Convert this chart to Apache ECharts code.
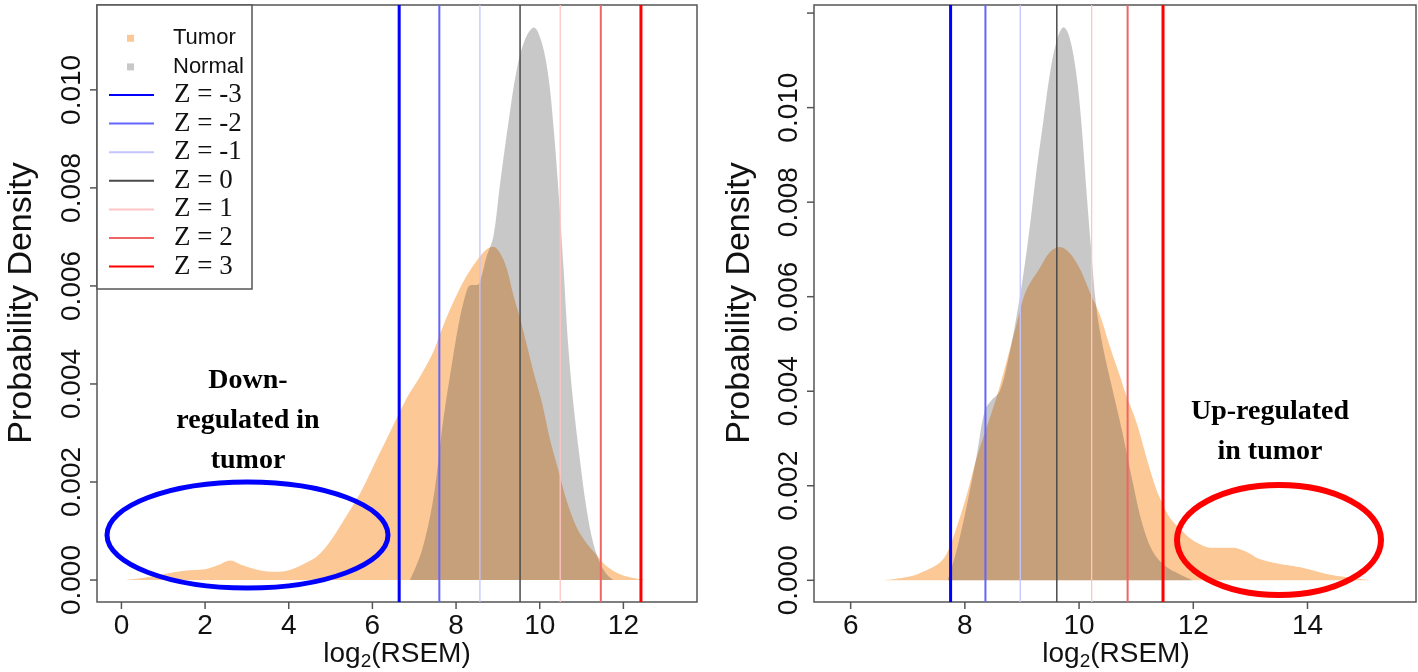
<!DOCTYPE html>
<html><head><meta charset="utf-8">
<script src="https://cdn.jsdelivr.net/npm/echarts@6/dist/echarts.min.js"></script>
<style>html,body{margin:0;padding:0;background:#fff}#c{width:1418px;height:672px}</style>
</head><body><div id="c"></div>
<script>
// ---- data ----
const tumorLeft = [[0.10,0.00000],[0.50,0.00004],[1.00,0.00012],[1.50,0.00019],[2.00,0.00022],[2.30,0.00030],[2.60,0.00040],[2.90,0.00030],[3.30,0.00020],[3.70,0.00017],[4.00,0.00020],[4.30,0.00030],[4.70,0.00050],[5.00,0.00080],[5.30,0.00120],[5.70,0.00176],[6.10,0.00246],[6.50,0.00316],[6.82,0.00371],[7.14,0.00415],[7.46,0.00466],[7.62,0.00503],[7.93,0.00566],[8.25,0.00620],[8.49,0.00651],[8.73,0.00675],[8.89,0.00680],[9.05,0.00667],[9.21,0.00636],[9.37,0.00581],[9.53,0.00534],[9.69,0.00480],[9.85,0.00425],[10.05,0.00363],[10.25,0.00285],[10.45,0.00223],[10.65,0.00160],[10.89,0.00106],[11.12,0.00075],[11.36,0.00051],[11.60,0.00028],[11.92,0.00012],[12.24,0.00004],[12.52,0.00000]];
const normalLeft = [[6.90,0.00000],[7.18,0.00059],[7.46,0.00168],[7.69,0.00324],[7.93,0.00456],[8.09,0.00534],[8.25,0.00589],[8.33,0.00601],[8.53,0.00603],[8.61,0.00620],[8.73,0.00660],[8.89,0.00700],[9.05,0.00807],[9.25,0.00932],[9.45,0.01041],[9.65,0.01103],[9.86,0.01127],[10.05,0.01096],[10.21,0.01025],[10.33,0.00924],[10.45,0.00791],[10.57,0.00636],[10.68,0.00480],[10.80,0.00363],[10.96,0.00246],[11.12,0.00145],[11.28,0.00075],[11.44,0.00035],[11.60,0.00012],[11.76,0.00000]];
const tumorRight = [[6.57,0.00000],[7.03,0.00008],[7.32,0.00021],[7.56,0.00037],[7.70,0.00061],[7.85,0.00110],[8.02,0.00175],[8.20,0.00256],[8.37,0.00320],[8.55,0.00385],[8.72,0.00458],[8.90,0.00539],[9.07,0.00612],[9.31,0.00660],[9.48,0.00693],[9.66,0.00705],[9.83,0.00693],[10.01,0.00660],[10.18,0.00612],[10.36,0.00563],[10.53,0.00498],[10.71,0.00434],[10.82,0.00393],[11.00,0.00336],[11.17,0.00264],[11.29,0.00215],[11.41,0.00175],[11.58,0.00134],[11.76,0.00110],[11.99,0.00085],[12.34,0.00069],[12.69,0.00069],[12.92,0.00061],[13.16,0.00045],[13.50,0.00035],[13.75,0.00030],[14.00,0.00024],[14.40,0.00012],[14.80,0.00005],[15.10,0.00000]];
const normalRight = [[7.70,0.00000],[7.85,0.00061],[8.02,0.00150],[8.20,0.00260],[8.35,0.00360],[8.46,0.00380],[8.61,0.00400],[8.75,0.00462],[8.90,0.00555],[9.02,0.00644],[9.13,0.00741],[9.25,0.00863],[9.37,0.00968],[9.48,0.01065],[9.60,0.01138],[9.73,0.01170],[9.83,0.01150],[9.95,0.01073],[10.04,0.00968],[10.12,0.00838],[10.21,0.00701],[10.30,0.00579],[10.41,0.00498],[10.59,0.00401],[10.76,0.00312],[10.94,0.00207],[11.11,0.00118],[11.29,0.00061],[11.52,0.00029],[11.76,0.00013],[11.99,0.00000]];
const zNames = ['Z = -3','Z = -2','Z = -1','Z = 0','Z = 1','Z = 2','Z = 3'];
const zLeft = [6.64, 7.60, 8.57, 9.53, 10.49, 11.46, 12.42];
const zRight = [7.75, 8.36, 8.97, 9.61, 10.22, 10.85, 11.47];
const xTicksLeft = [0, 2, 4, 6, 8, 10, 12];
const xTicksRight = [6, 8, 10, 12, 14];
const yLabelValues = [0, 0.002, 0.004, 0.006, 0.008, 0.010];
const yTickLeft = [0, 0.002, 0.004, 0.006, 0.008, 0.010];
const yTickRight = [0, 0.002, 0.004, 0.006, 0.008, 0.010, 0.012];

// ---- styling ----
const zColors = ['#0000ff', '#6464ff', '#c4c4ff', '#4a4a4a', '#ffc4c4', '#f06464', '#ff0000'];
const zWidths = [3, 2, 1.3, 1.5, 1.3, 2, 3];
const tumorColor = '#fcc896';
const normalColor = 'rgba(51,51,51,0.27)';
const sans = '"Liberation Sans", Arial, sans-serif';
const serif = '"Liberation Serif", "Times New Roman", serif';
const boxColor = '#555';
const tickLen = 7;

const ext = {
  left:  {x: [-0.584, 13.76], y: [-0.000448, 0.011731]},
  right: {x: [5.358, 15.90],  y: [-0.000459, 0.012171]}
};

function xAxisLab(idx, r, ticks) {
  return {
    type: 'value', gridIndex: idx, min: r[0], max: r[1], position: 'bottom',
    axisLine: {show: false, onZero: false}, splitLine: {show: false}, axisTick: {show: false},
    axisLabel: {show: true, margin: 10, fontSize: 28, fontFamily: sans, color: '#111', customValues: ticks, formatter: v => String(v)}
  };
}
function yAxisLab(idx, r) {
  return {
    type: 'value', gridIndex: idx, min: r[0], max: r[1], position: 'left',
    axisLine: {show: false, onZero: false}, splitLine: {show: false}, axisTick: {show: false},
    axisLabel: {show: true, rotate: 90, margin: 11, fontSize: 28, fontFamily: sans, color: '#111', customValues: yLabelValues, formatter: v => v.toFixed(3)}
  };
}

// tick marks placed through the axes' own scales (api.coord)
function xTickSeries(i, ticks, yMin) {
  return {
    type: 'custom', xAxisIndex: i, yAxisIndex: i, data: ticks.map(v => [v]), clip: false, z: 8, silent: true,
    renderItem: (params, api) => {
      const p = api.coord([api.value(0), yMin]);
      return {type: 'line', shape: {x1: p[0], y1: p[1], x2: p[0], y2: p[1] + tickLen}, style: {stroke: boxColor, lineWidth: 1.5}};
    }
  };
}
function yTickSeries(i, ticks, xMin) {
  return {
    type: 'custom', xAxisIndex: i, yAxisIndex: i, data: ticks.map(v => [xMin, v]), clip: false, z: 8, silent: true,
    encode: {x: 0, y: 1},
    renderItem: (params, api) => {
      const p = api.coord([xMin, api.value(1)]);
      return {type: 'line', shape: {x1: p[0], y1: p[1], x2: p[0] - tickLen, y2: p[1]}, style: {stroke: boxColor, lineWidth: 1.5}};
    }
  };
}

const series = [];
[[tumorLeft, normalLeft, zLeft, ext.left, xTicksLeft, yTickLeft],
 [tumorRight, normalRight, zRight, ext.right, xTicksRight, yTickRight]].forEach((p, i) => {
  series.push({
    type: 'line', name: 'Tumor', xAxisIndex: i, yAxisIndex: i, data: p[0],
    symbol: 'none', smooth: 0.35, color: tumorColor, z: 2,
    lineStyle: {width: 0, opacity: 0}, areaStyle: {color: tumorColor, opacity: 1}
  });
  series.push({
    type: 'line', name: 'Normal', xAxisIndex: i, yAxisIndex: i, data: p[1],
    symbol: 'none', smooth: 0.35, color: normalColor, z: 2,
    lineStyle: {width: 0, opacity: 0}, areaStyle: {color: normalColor, opacity: 1}
  });
  p[2].forEach((zv, k) => {
    series.push({
      type: 'line', name: zNames[k], xAxisIndex: i, yAxisIndex: i,
      data: [[zv, p[3].y[0]], [zv, p[3].y[1]]],
      symbol: 'none', color: zColors[k], z: 3,
      lineStyle: {color: zColors[k], width: zWidths[k]}
    });
  });
  series.push(xTickSeries(i, p[4], p[3].y[0]));
  series.push(yTickSeries(i, p[5], p[3].x[0]));
});

const chart = echarts.init(document.getElementById('c'), null, {renderer: 'canvas'});
chart.setOption({
  animation: false,
  backgroundColor: '#fff',
  grid: [
    {left: 97, top: 5, width: 600, height: 597, show: true, borderColor: boxColor, borderWidth: 1.5, backgroundColor: 'transparent', outerBoundsMode: 'none', containLabel: false},
    {left: 814, top: 5, width: 602, height: 597, show: true, borderColor: boxColor, borderWidth: 1.5, backgroundColor: 'transparent', outerBoundsMode: 'none', containLabel: false}
  ],
  xAxis: [xAxisLab(0, ext.left.x, xTicksLeft), xAxisLab(1, ext.right.x, xTicksRight)],
  yAxis: [yAxisLab(0, ext.left.y), yAxisLab(1, ext.right.y)],
  legend: [
    {
      data: [{name: 'Tumor', icon: 'rect'}, {name: 'Normal', icon: 'rect'}],
      orient: 'vertical', left: 122, top: 19, itemWidth: 7, itemHeight: 7, itemGap: 0,
      selectedMode: false, z: 6,
      textStyle: {fontFamily: sans, fontSize: 22, color: '#111', lineHeight: 28.6, padding: [0, 0, 0, 34]}
    },
    {
      data: zNames, orient: 'vertical', left: 103, top: 75.7, itemWidth: 45, itemHeight: 2, itemGap: 0,
      selectedMode: false, z: 6, itemStyle: {opacity: 0},
      textStyle: {fontFamily: serif, fontSize: 27, color: '#111', lineHeight: 28.6, padding: [0, 0, 0, 15]}
    }
  ],
  graphic: [
    {type: 'rect', z: 5, shape: {x: 97, y: 5, width: 155, height: 284}, style: {fill: '#fff', stroke: boxColor, lineWidth: 1.5}},
    {type: 'ellipse', z: 10, shape: {cx: 247.5, cy: 535, rx: 140.5, ry: 53}, style: {fill: 'none', stroke: '#0000ff', lineWidth: 5}},
    {type: 'ellipse', z: 10, shape: {cx: 1279, cy: 540, rx: 102, ry: 55}, style: {fill: 'none', stroke: '#ff0000', lineWidth: 6}},
    {type: 'text', z: 10, style: {text: 'Down-\nregulated in\ntumor', x: 248, y: 421, align: 'center', verticalAlign: 'middle', fontSize: 28, fontWeight: 'bold', fontFamily: serif, lineHeight: 40, fill: '#000'}},
    {type: 'text', z: 10, style: {text: 'Up-regulated\nin tumor', x: 1270, y: 432, align: 'center', verticalAlign: 'middle', fontSize: 28, fontWeight: 'bold', fontFamily: serif, lineHeight: 40, fill: '#000'}},
    {type: 'text', z: 10, x: 22, y: 303, rotation: Math.PI / 2, style: {text: 'Probability Density', x: 0, y: 0, align: 'center', verticalAlign: 'middle', fontSize: 34, fontFamily: sans, fill: '#111'}},
    {type: 'text', z: 10, x: 740, y: 303, rotation: Math.PI / 2, style: {text: 'Probability Density', x: 0, y: 0, align: 'center', verticalAlign: 'middle', fontSize: 34, fontFamily: sans, fill: '#111'}},
    {type: 'text', z: 10, style: {text: '{a|log}{s|2}{a|(RSEM)}', x: 397, y: 654, align: 'center', verticalAlign: 'middle', fill: '#111',
      rich: {a: {fontSize: 28, fontFamily: sans, lineHeight: 34, fill: '#111'}, s: {fontSize: 19, fontFamily: sans, lineHeight: 20, verticalAlign: 'bottom', fill: '#111'}}}},
    {type: 'text', z: 10, style: {text: '{a|log}{s|2}{a|(RSEM)}', x: 1116, y: 654, align: 'center', verticalAlign: 'middle', fill: '#111',
      rich: {a: {fontSize: 28, fontFamily: sans, lineHeight: 34, fill: '#111'}, s: {fontSize: 19, fontFamily: sans, lineHeight: 20, verticalAlign: 'bottom', fill: '#111'}}}}
  ],
  series: series
});
</script>
</body></html>
